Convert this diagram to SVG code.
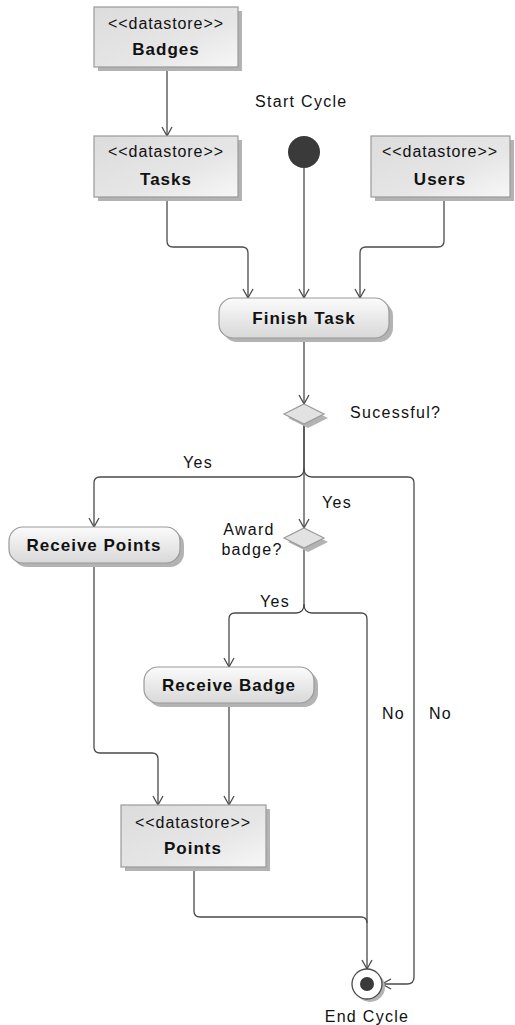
<svg xmlns="http://www.w3.org/2000/svg" width="515" height="1025" viewBox="0 0 515 1025">
<style>
.box{stroke:#9a9a9a;stroke-width:1.2;fill:url(#gbox)}
.rnd{stroke:#9a9a9a;stroke-width:1.2;fill:url(#grnd)}
.sh{fill:#b3b3b3}
.dia{stroke:#9a9a9a;stroke-width:1.2;fill:#e2e2e2}
.ln{fill:none;stroke:#4a4a4a;stroke-width:1.3;marker-end:url(#arr)}
.ln0{fill:none;stroke:#4a4a4a;stroke-width:1.3}
.st{font-family:"Liberation Sans",Arial,sans-serif;font-size:16px;letter-spacing:0.9px;text-anchor:middle;fill:#111}
.bn{font-family:"Liberation Sans",Arial,sans-serif;font-size:17px;font-weight:bold;letter-spacing:1px;text-anchor:middle;fill:#111}
.lb{font-family:"Liberation Sans",Arial,sans-serif;font-size:16px;letter-spacing:1.3px;fill:#111}
</style>
<defs>
<linearGradient id="gbox" x1="0" y1="0" x2="1" y2="1">
<stop offset="0" stop-color="#dcdcdc"/><stop offset="0.6" stop-color="#e6e6e6"/><stop offset="1" stop-color="#f7f7f7"/>
</linearGradient>
<linearGradient id="grnd" x1="0" y1="0" x2="0" y2="1">
<stop offset="0" stop-color="#fbfbfb"/><stop offset="1" stop-color="#d8d8d8"/>
</linearGradient>
<marker id="arr" markerUnits="userSpaceOnUse" markerWidth="12" markerHeight="12" refX="10" refY="6" orient="auto" viewBox="0 0 12 12">
<path d="M1,1 L10,6 L1,11" fill="none" stroke="#4a4a4a" stroke-width="1.3"/>
</marker>
</defs>
<g id="connectors">
<path class="ln" d="M167,67 V136"/>
<path class="ln" d="M167,197 V241 Q167,247 173,247 H242 Q248,247 248,253 V298"/>
<path class="ln" d="M304,168 V298"/>
<path class="ln" d="M444,197 V241 Q444,247 438,247 H366 Q360,247 360,253 V298"/>
<path class="ln" d="M304,338 V404"/>
<path class="ln0" d="M304,424 V468"/>
<path class="ln" d="M304,468 Q304,477 296,477 H100 Q94,477 94,483 V527"/>
<path class="ln" d="M304,468 Q304,477 312,477 H408 Q414,477 414,483 V977 Q414,984 407,984 H382"/>
<path class="ln" d="M304,424 V528"/>
<path class="ln0" d="M304,548 V604"/>
<path class="ln" d="M304,604 Q304,613 296,613 H235 Q229,613 229,619 V667"/>
<path class="ln" d="M304,604 Q304,613 312,613 H361 Q367,613 367,619 V969"/>
<path class="ln" d="M94,563 V747 Q94,753 100,753 H152 Q158,753 158,759 V805"/>
<path class="ln" d="M229,703 V805"/>
<path class="ln0" d="M194,867 V911 Q194,917 200,917 H361 Q367,917 367,923"/>
</g>
<g id="badges">
<rect class="sh" x="98" y="11" width="144" height="60"/>
<rect class="box" x="94" y="7" width="144" height="60"/>
<text class="st" x="166" y="29">&lt;&lt;datastore&gt;&gt;</text>
<text class="bn" x="166" y="55">Badges</text>
</g>
<g id="tasks">
<rect class="sh" x="98" y="140" width="144" height="61"/>
<rect class="box" x="94" y="136" width="144" height="61"/>
<text class="st" x="166" y="157">&lt;&lt;datastore&gt;&gt;</text>
<text class="bn" x="166" y="185">Tasks</text>
</g>
<g id="users">
<rect class="sh" x="375" y="140" width="139" height="61"/>
<rect class="box" x="371" y="136" width="139" height="61"/>
<text class="st" x="440" y="157">&lt;&lt;datastore&gt;&gt;</text>
<text class="bn" x="440" y="185">Users</text>
</g>
<g id="start">
<circle cx="304" cy="152" r="16" fill="#3a3a3a"/>
<text class="lb" x="255" y="107">Start Cycle</text>
</g>
<g id="finish-task">
<rect class="sh" x="223" y="302" width="170" height="40" rx="14"/>
<rect class="rnd" x="219" y="298" width="170" height="40" rx="14"/>
<text class="bn" x="304" y="324">Finish Task</text>
</g>
<g id="successful">
<polygon class="sh" points="308,408 328,418 308,428 288,418"/>
<polygon class="dia" points="304,404 324,414 304,424 284,414"/>
<text class="lb" x="350" y="418">Sucessful?</text>
</g>
<g id="receive-points">
<rect class="sh" x="13" y="531" width="171" height="36" rx="14"/>
<rect class="rnd" x="9" y="527" width="171" height="36" rx="14"/>
<text class="bn" x="94" y="551">Receive Points</text>
</g>
<g id="award">
<polygon class="sh" points="308,532 328,542 308,552 288,542"/>
<polygon class="dia" points="304,528 324,538 304,548 284,538"/>
<text class="lb" x="249" y="535" text-anchor="middle">Award</text>
<text class="lb" x="252" y="555" text-anchor="middle">badge?</text>
</g>
<g id="receive-badge">
<rect class="sh" x="148" y="671" width="170" height="36" rx="14"/>
<rect class="rnd" x="144" y="667" width="170" height="36" rx="14"/>
<text class="bn" x="229" y="691">Receive Badge</text>
</g>
<g id="points">
<rect class="sh" x="125" y="809" width="145" height="62"/>
<rect class="box" x="121" y="805" width="145" height="62"/>
<text class="st" x="193" y="828">&lt;&lt;datastore&gt;&gt;</text>
<text class="bn" x="193" y="854">Points</text>
</g>
<g id="end">
<circle cx="370" cy="987" r="15" fill="#b3b3b3"/>
<circle cx="367" cy="984" r="15" fill="#fff" stroke="#4a4a4a" stroke-width="1.3"/>
<circle cx="367" cy="984" r="7" fill="#3a3a3a"/>
<text class="lb" x="367" y="1022" text-anchor="middle">End Cycle</text>
</g>
<g id="labels">
<text class="lb" x="183" y="468">Yes</text>
<text class="lb" x="322" y="508">Yes</text>
<text class="lb" x="260" y="607">Yes</text>
<text class="lb" x="382" y="719">No</text>
<text class="lb" x="429" y="719">No</text>
</g>
</svg>
